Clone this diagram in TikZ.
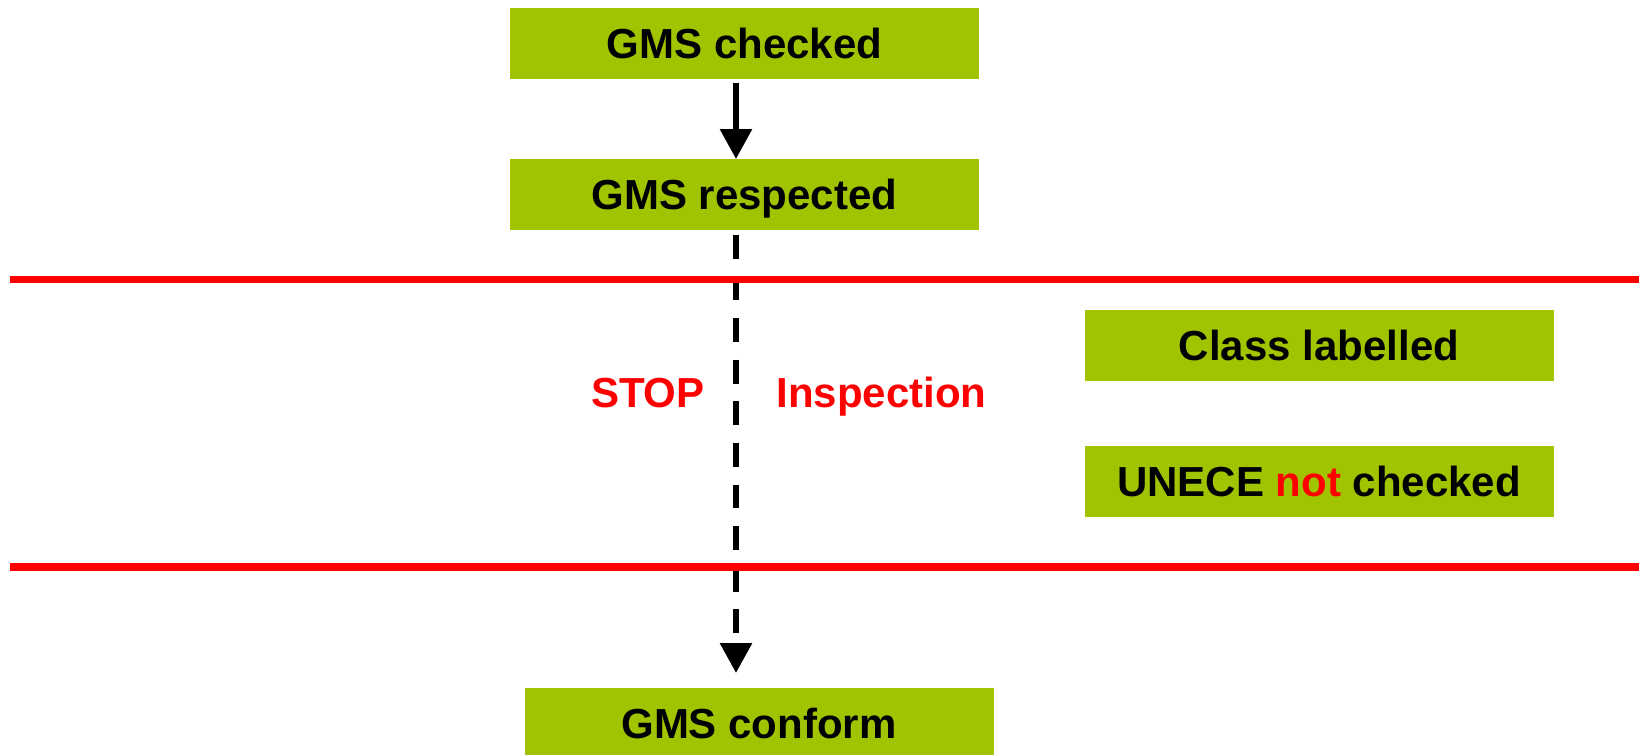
\documentclass[tikz,border=0pt]{standalone}
\usepackage{fontspec}
\setmainfont{Liberation Sans}
\usetikzlibrary{calc, arrows.meta}
\definecolor{boxgreen}{RGB}{160,196,0}
\tikzset{
  gms box/.style={fill=boxgreen, minimum width=234.5pt, minimum height=35.5pt, inner sep=0pt, outer sep=0pt,
    text height=15pt, text depth=0pt, font=\fontsize{21}{25}\selectfont\bfseries},
  flow line/.style={line width=3pt, black, -{Triangle[length=15pt, width=15.5pt]}},
  stop line/.style={flow line, dash pattern=on 11.85pt off 8.95pt},
  separator line/.style={line width=3.75pt, red},
  stop label/.style={text=red, inner sep=0pt, font=\fontsize{21}{25}\selectfont\bfseries},
}

\begin{document}
\begin{tikzpicture}[x=0.5pt, y=-0.5pt]
  \useasboundingbox (0,0) rectangle (1639,755);
  \node[gms box] (checked) at (744.5,43.5) {GMS checked};
  \node[gms box] (respected) at (744.5,194.5) {GMS respected};
  \node[gms box] (labelled) at (1319,345.5) {Class labelled};
  \node[gms box] (unece) at (1319,481.5) {UNECE \textcolor{red}{not} checked};
  \node[gms box] (conform) at (759,723.5) {GMS conform};
  \node[stop label, anchor=base east] (stop) at (705,407) {STOP};
  \node[stop label, anchor=base west] (inspection) at (776,407) {Inspection};
  \draw[flow line, shorten <=2pt] ([xshift=-4.25pt]checked.south) -- ([xshift=-4.25pt]respected.north);
  \draw[stop line, shorten <=2.5pt, shorten >=7.5pt] ([xshift=-4.25pt]respected.south) -- ([xshift=-4.25pt]respected.south |- conform.north);
  \draw[separator line] (10,279.5) -- (1639,279.5);
  \draw[separator line] (10,567) -- (1639,567);
\end{tikzpicture}
\end{document}
